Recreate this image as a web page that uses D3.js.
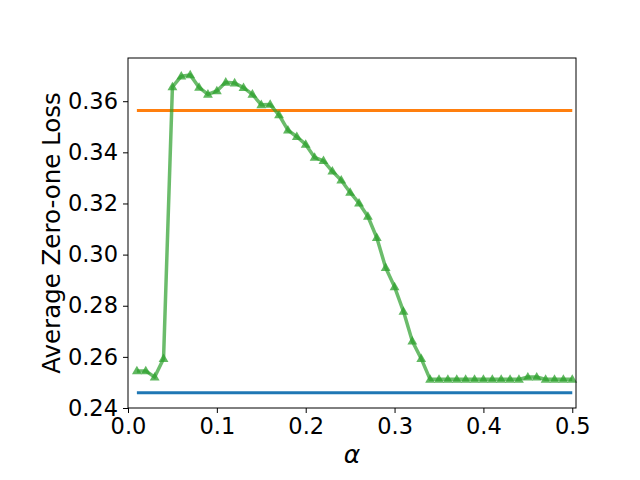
<!DOCTYPE html>
<html>
<head>
<meta charset="utf-8">
<script src="https://cdn.jsdelivr.net/npm/d3@7"></script>
<style>
  body { margin: 0; background: #fff; }
  svg text { font-family: "DejaVu Sans", sans-serif; }
</style>
</head>
<body>
<div id="chart"></div>
<script>
// data
const alphas = d3.range(1, 51).map(i => i / 100);
const lossGreen = [
  0.2545, 0.2545, 0.2521, 0.2593, 0.3656, 0.3698, 0.3703, 0.3654, 0.3627, 0.3640,
  0.3674, 0.3671, 0.3653, 0.3627, 0.3586, 0.3587, 0.3546, 0.3487, 0.3461, 0.3431,
  0.3380, 0.3367, 0.3326, 0.3291, 0.3243, 0.3201, 0.3149, 0.3066, 0.2949, 0.2874,
  0.2778, 0.2661, 0.2593, 0.2512, 0.2512, 0.2512, 0.2512, 0.2512, 0.2512, 0.2512,
  0.2512, 0.2512, 0.2512, 0.2512, 0.2521, 0.2521, 0.2512, 0.2512, 0.2512, 0.2512
];
const lossOrange = 0.3564;
const lossBlue = 0.2460;
const xTicks = [0, 0.1, 0.2, 0.3, 0.4, 0.5];
const yTicks = [0.24, 0.26, 0.28, 0.30, 0.32, 0.34, 0.36];

const width = 640, height = 480;
const margin = { top: 58, right: 64, bottom: 72, left: 128 };

const svg = d3.select("#chart")
  .append("svg")
  .attr("width", width)
  .attr("height", height);

const x = d3.scaleLinear()
  .domain([0, 0.5042])
  .range([margin.left, width - margin.right]);

const y = d3.scaleLinear()
  .domain([0.24, 0.3769])
  .range([height - margin.bottom, margin.top]);

// horizontal reference lines
svg.append("line")
  .attr("x1", x(0.01)).attr("x2", x(0.5))
  .attr("y1", y(lossOrange)).attr("y2", y(lossOrange))
  .attr("stroke", "#ff7f0e")
  .attr("stroke-width", 3);

svg.append("line")
  .attr("x1", x(0.01)).attr("x2", x(0.5))
  .attr("y1", y(lossBlue)).attr("y2", y(lossBlue))
  .attr("stroke", "#1f77b4")
  .attr("stroke-width", 3);

// green series
const line = d3.line()
  .x((d, i) => x(alphas[i]))
  .y(d => y(d));

svg.append("path")
  .datum(lossGreen)
  .attr("d", line)
  .attr("fill", "none")
  .attr("stroke", "#2ca02c")
  .attr("stroke-opacity", 0.7)
  .attr("stroke-width", 3.5)
  .attr("stroke-linejoin", "round");

const tri = d3.symbol().type(d3.symbolTriangle).size(42);
svg.selectAll(".marker")
  .data(lossGreen)
  .join("path")
  .attr("class", "marker")
  .attr("d", tri)
  .attr("transform", (d, i) => `translate(${x(alphas[i])},${y(d) + 0.5})`)
  .attr("fill", "#2ca02c")
  .attr("fill-opacity", 0.75);

// axes
const xAxis = svg.append("g")
  .attr("transform", `translate(0,${height - margin.bottom})`)
  .call(d3.axisBottom(x).tickValues(xTicks).tickFormat(d3.format(".1f")).tickSizeOuter(0).tickSize(5).tickPadding(5));

const yAxis = svg.append("g")
  .attr("transform", `translate(${margin.left},0)`)
  .call(d3.axisLeft(y).tickValues(yTicks).tickFormat(d3.format(".2f")).tickSizeOuter(0).tickSize(5).tickPadding(5));

[xAxis, yAxis].forEach(g => {
  g.select(".domain").remove();
  g.selectAll("text").style("font-size", "22.5px").attr("fill", "#000");
  g.selectAll("line").attr("stroke", "#000").attr("stroke-width", 1);
});

// frame
svg.append("rect")
  .attr("x", margin.left).attr("y", margin.top)
  .attr("width", width - margin.left - margin.right)
  .attr("height", height - margin.top - margin.bottom)
  .attr("fill", "none")
  .attr("stroke", "#000")
  .attr("stroke-width", 1);

// labels
svg.append("text")
  .attr("x", (margin.left + width - margin.right) / 2)
  .attr("y", 463)
  .attr("text-anchor", "middle")
  .style("font-size", "25px")
  .style("font-style", "italic")
  .text("α");

svg.append("text")
  .attr("transform", `translate(60,${(margin.top + height - margin.bottom) / 2}) rotate(-90)`)
  .attr("text-anchor", "middle")
  .style("font-size", "24.5px")
  .text("Average Zero-one Loss");
</script>
</body>
</html>
